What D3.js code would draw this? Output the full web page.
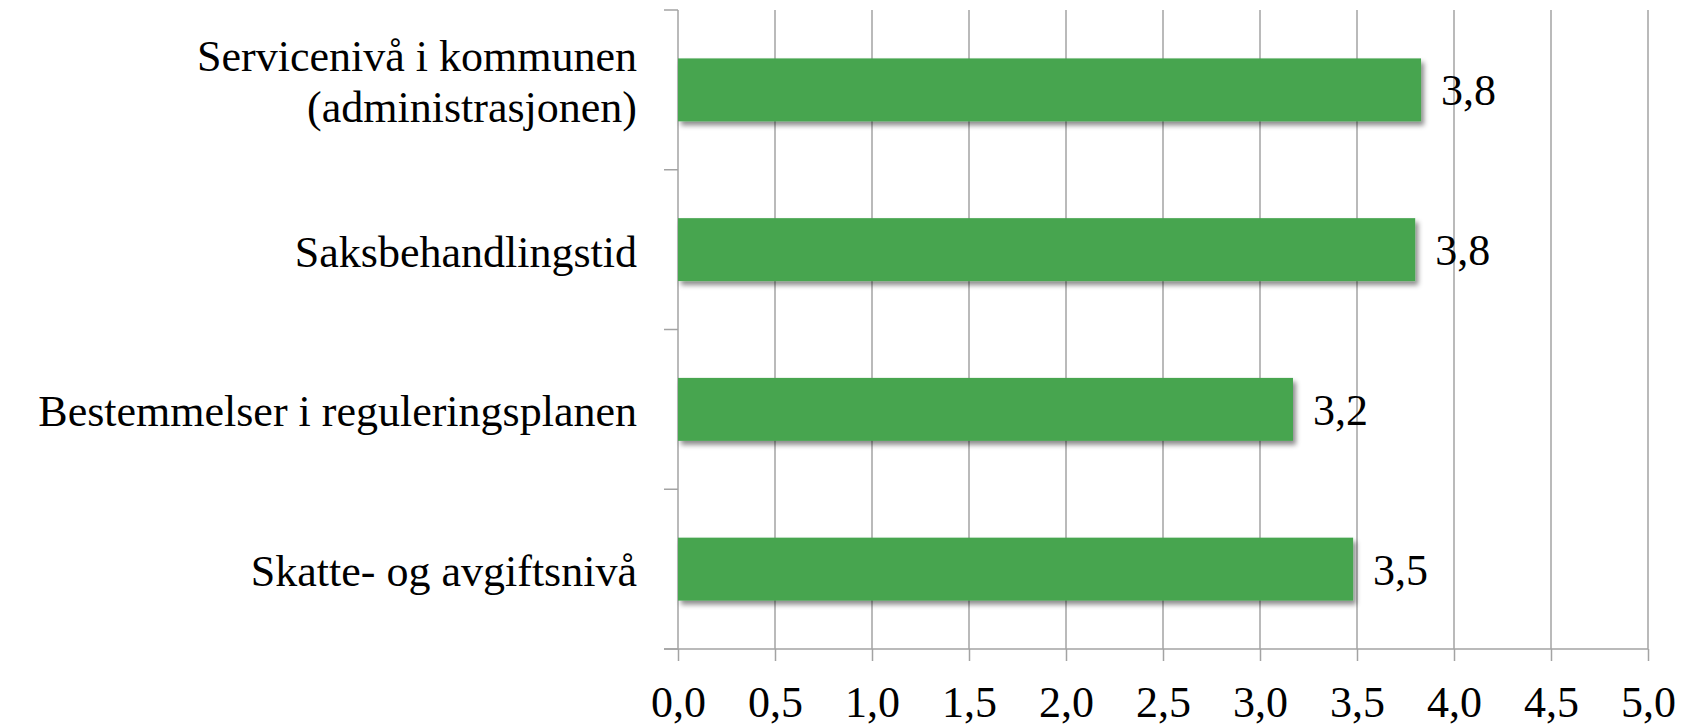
<!DOCTYPE html>
<html>
<head>
<meta charset="utf-8">
<script src="https://cdn.jsdelivr.net/npm/d3@7"></script>
<style>
  body { margin: 0; background: #fff; }
  text { font-family: "Liberation Serif", "DejaVu Serif", serif; fill: #000; }
</style>
</head>
<body>
<div id="chart"></div>
<script>
const categories = [
    ["Servicenivå i kommunen", "(administrasjonen)"],
    ["Saksbehandlingstid"],
    ["Bestemmelser i reguleringsplanen"],
    ["Skatte- og avgiftsnivå"]
];
const values = [3.83, 3.80, 3.17, 3.48];
const xTicks = [0, 0.5, 1, 1.5, 2, 2.5, 3, 3.5, 4, 4.5, 5];

const width = 1688, height = 726;
const margin = { top: 10, right: 40, bottom: 77, left: 678 };

const svg = d3.select("#chart").append("svg")
    .attr("width", width)
    .attr("height", height);

const defs = svg.append("defs");
const shadow = defs.append("filter").attr("id", "shadow")
    .attr("x", "-5%").attr("y", "-20%").attr("width", "115%").attr("height", "160%");
shadow.append("feDropShadow")
    .attr("dx", 3).attr("dy", 4).attr("stdDeviation", 2.5)
    .attr("flood-color", "#000").attr("flood-opacity", 0.45);

const x = d3.scaleLinear()
    .domain([0, 5])
    .range([margin.left, width - margin.right]);

const y = d3.scaleBand()
    .domain(d3.range(categories.length))
    .range([margin.top, height - margin.bottom])
    .paddingInner(0.606)
    .paddingOuter(0.303);

const fmt = d => d3.format(".1f")(d).replace(".", ",");
const gridColor = "#a3a3a3";
const yBottom = height - margin.bottom;
const fontSize = 44;

// vertical gridlines
svg.append("g")
    .selectAll("line")
    .data(xTicks.slice(1))
    .enter().append("line")
    .attr("x1", d => x(d)).attr("x2", d => x(d))
    .attr("y1", margin.top).attr("y2", yBottom)
    .attr("stroke", gridColor).attr("stroke-width", 1.5);

// bottom axis
const xAxis = svg.append("g")
    .attr("transform", `translate(0,${yBottom})`)
    .call(d3.axisBottom(x).tickValues(xTicks).tickSize(12).tickPadding(25).tickFormat(fmt));
xAxis.select(".domain").remove();
xAxis.selectAll(".tick line").attr("stroke", gridColor).attr("stroke-width", 1.5);
xAxis.selectAll(".tick text")
    .attr("font-family", "Liberation Serif")
    .attr("font-size", fontSize)
    .attr("fill", "#000");
xAxis.append("line")
    .attr("x1", x(0) - 14).attr("x2", x(5))
    .attr("stroke", gridColor).attr("stroke-width", 1.5);

// left axis line and band boundary ticks
svg.append("line")
    .attr("x1", x(0)).attr("x2", x(0))
    .attr("y1", margin.top).attr("y2", yBottom)
    .attr("stroke", gridColor).attr("stroke-width", 1.5);
const bounds = d3.range(categories.length + 1).map(i => margin.top + i * y.step());
svg.append("g")
    .selectAll("line")
    .data(bounds)
    .enter().append("line")
    .attr("x1", x(0) - 14).attr("x2", x(0))
    .attr("y1", d => d).attr("y2", d => d)
    .attr("stroke", gridColor).attr("stroke-width", 1.5);

// bars
svg.append("g")
    .selectAll("rect")
    .data(values)
    .enter().append("rect")
    .attr("x", x(0))
    .attr("y", (d, i) => y(i))
    .attr("width", d => x(d) - x(0))
    .attr("height", y.bandwidth())
    .attr("fill", "#46a550")
    .attr("filter", "url(#shadow)");

// value labels
svg.append("g")
    .selectAll("text")
    .data(values)
    .enter().append("text")
    .attr("x", d => x(d) + 20)
    .attr("y", (d, i) => y(i) + y.bandwidth() / 2)
    .attr("dy", "0.35em")
    .attr("font-size", fontSize)
    .text(d => fmt(d));

// category labels (multi-line ones centred on the band)
const lh = 51;
const labels = svg.append("g")
    .selectAll("text")
    .data(categories)
    .enter().append("text")
    .attr("text-anchor", "end")
    .attr("font-size", fontSize);
labels.each(function(lines, i) {
    const t = d3.select(this);
    const n = lines.length;
    const base = y(i) + y.bandwidth() / 2 + 17 - (n - 1) * (lh / 2 + 10);
    lines.forEach((s, j) => {
        t.append("tspan")
            .attr("x", 637)
            .attr("y", base + j * lh)
            .text(s);
    });
});
</script>
</body>
</html>
